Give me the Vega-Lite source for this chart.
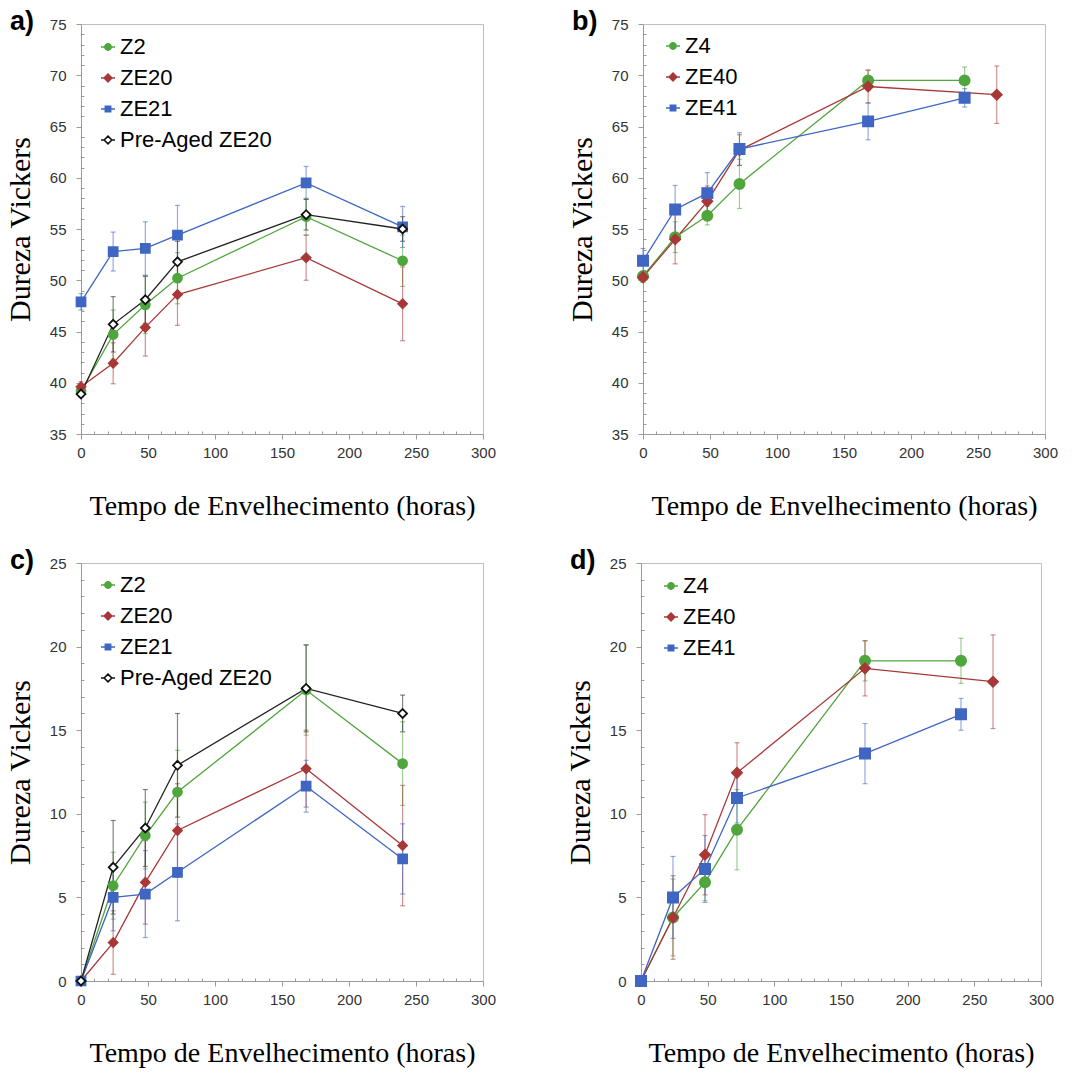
{
  "$schema": "https://vega.github.io/schema/vega-lite/v6.json",
  "background": "white",
  "padding": {"left": 4, "top": 7, "right": 0, "bottom": 0},
  "config": {
    "font": "Liberation Sans",
    "view": {"stroke": "#bfbfbf", "strokeWidth": 1},
    "axis": {
      "grid": false,
      "domainColor": "#9a9a9a",
      "tickColor": "#9a9a9a",
      "labelFont": "Liberation Sans",
      "labelFontSize": 15,
      "labelColor": "#333333",
      "labelOverlap": false,
      "labelFlush": false,
      "titleFont": "Liberation Serif",
      "titleFontWeight": "normal",
      "titleColor": "black"
    },
    "axisX": {"labelPadding": 6, "titleFontSize": 28, "titlePadding": 32},
    "axisY": {"labelPadding": 10, "titleFontSize": 30, "titlePadding": 14},
    "legend": {"labelFont": "Liberation Sans", "labelFontSize": 22, "labelColor": "black", "symbolSize": 196, "symbolStrokeWidth": 1.6, "symbolFillColor": "#4fa63c", "symbolStrokeColor": "#111111", "rowPadding": 9, "labelOffset": 1, "padding": 0, "labelLimit": 300},
    "title": {
      "font": "Liberation Sans",
      "fontSize": 27,
      "fontWeight": "bold",
      "color": "black",
      "anchor": "start",
      "frame": "group",
      "offset": 0
    }
  },
  "datasets": {
    "a": [
      {"s": "Z2", "t": 0, "v": 39.2, "e": 0.5},
      {"s": "Z2", "t": 24, "v": 44.7, "e": 2.4},
      {"s": "Z2", "t": 48, "v": 47.6, "e": 2.8},
      {"s": "Z2", "t": 72, "v": 50.2, "e": 2.5},
      {"s": "Z2", "t": 168, "v": 56.2, "e": 1.8},
      {"s": "Z2", "t": 240, "v": 51.9, "e": 2.5},
      {"s": "ZE20", "t": 0, "v": 39.6, "e": 0.5},
      {"s": "ZE20", "t": 24, "v": 41.9, "e": 2.0},
      {"s": "ZE20", "t": 48, "v": 45.4, "e": 2.8},
      {"s": "ZE20", "t": 72, "v": 48.6, "e": 3.0},
      {"s": "ZE20", "t": 168, "v": 52.2, "e": 2.2},
      {"s": "ZE20", "t": 240, "v": 47.7, "e": 3.6},
      {"s": "ZE21", "t": 0, "v": 47.9, "e": 0.8},
      {"s": "ZE21", "t": 24, "v": 52.8, "e": 1.9},
      {"s": "ZE21", "t": 48, "v": 53.1, "e": 2.6},
      {"s": "ZE21", "t": 72, "v": 54.4, "e": 2.9},
      {"s": "ZE21", "t": 168, "v": 59.5, "e": 1.6},
      {"s": "ZE21", "t": 240, "v": 55.2, "e": 2.0},
      {"s": "Pre-Aged ZE20", "t": 0, "v": 38.9, "e": 0.3},
      {"s": "Pre-Aged ZE20", "t": 24, "v": 45.7, "e": 2.7},
      {"s": "Pre-Aged ZE20", "t": 48, "v": 48.1, "e": 2.3},
      {"s": "Pre-Aged ZE20", "t": 72, "v": 51.8, "e": 2.0},
      {"s": "Pre-Aged ZE20", "t": 168, "v": 56.4, "e": 1.5},
      {"s": "Pre-Aged ZE20", "t": 240, "v": 55.0, "e": 1.2}
    ],
    "b": [
      {"s": "Z4", "t": 0, "v": 50.4, "e": 0.5},
      {"s": "Z4", "t": 24, "v": 54.2, "e": 1.5},
      {"s": "Z4", "t": 48, "v": 56.3, "e": 0.9},
      {"s": "Z4", "t": 72, "v": 59.4, "e": 2.4},
      {"s": "Z4", "t": 168, "v": 69.5, "e": 1.0},
      {"s": "Z4", "t": 240, "v": 69.5, "e": 1.3},
      {"s": "ZE40", "t": 0, "v": 50.3, "e": 0.5},
      {"s": "ZE40", "t": 24, "v": 54.0, "e": 2.4},
      {"s": "ZE40", "t": 48, "v": 57.7, "e": 1.5},
      {"s": "ZE40", "t": 72, "v": 62.7, "e": 1.5},
      {"s": "ZE40", "t": 168, "v": 68.9, "e": 1.6},
      {"s": "ZE40", "t": 264, "v": 68.1, "e": 2.8},
      {"s": "ZE41", "t": 0, "v": 51.9, "e": 1.2},
      {"s": "ZE41", "t": 24, "v": 56.9, "e": 2.35},
      {"s": "ZE41", "t": 48, "v": 58.5, "e": 2.0},
      {"s": "ZE41", "t": 72, "v": 62.8, "e": 1.6},
      {"s": "ZE41", "t": 168, "v": 65.5, "e": 1.8},
      {"s": "ZE41", "t": 240, "v": 67.8, "e": 0.9}
    ],
    "c": [
      {"s": "Z2", "t": 0, "v": 0, "e": 0},
      {"s": "Z2", "t": 24, "v": 5.7, "e": 2.0},
      {"s": "Z2", "t": 48, "v": 8.7, "e": 2.0},
      {"s": "Z2", "t": 72, "v": 11.3, "e": 2.5},
      {"s": "Z2", "t": 168, "v": 17.4, "e": 2.7},
      {"s": "Z2", "t": 240, "v": 13.0, "e": 2.5},
      {"s": "ZE20", "t": 0, "v": 0, "e": 0},
      {"s": "ZE20", "t": 24, "v": 2.3, "e": 1.9},
      {"s": "ZE20", "t": 48, "v": 5.9, "e": 2.5},
      {"s": "ZE20", "t": 72, "v": 9.0, "e": 2.8},
      {"s": "ZE20", "t": 168, "v": 12.7, "e": 2.3},
      {"s": "ZE20", "t": 240, "v": 8.1, "e": 3.6},
      {"s": "ZE21", "t": 0, "v": 0, "e": 0},
      {"s": "ZE21", "t": 24, "v": 5.0, "e": 2.0},
      {"s": "ZE21", "t": 48, "v": 5.2, "e": 2.6},
      {"s": "ZE21", "t": 72, "v": 6.5, "e": 2.9},
      {"s": "ZE21", "t": 168, "v": 11.65, "e": 1.55},
      {"s": "ZE21", "t": 240, "v": 7.3, "e": 2.1},
      {"s": "Pre-Aged ZE20", "t": 0, "v": 0, "e": 0},
      {"s": "Pre-Aged ZE20", "t": 24, "v": 6.8, "e": 2.8},
      {"s": "Pre-Aged ZE20", "t": 48, "v": 9.15, "e": 2.3},
      {"s": "Pre-Aged ZE20", "t": 72, "v": 12.9, "e": 3.1},
      {"s": "Pre-Aged ZE20", "t": 168, "v": 17.5, "e": 2.6},
      {"s": "Pre-Aged ZE20", "t": 240, "v": 16.0, "e": 1.1}
    ],
    "d": [
      {"s": "Z4", "t": 0, "v": 0, "e": 0},
      {"s": "Z4", "t": 24, "v": 3.8, "e": 2.3},
      {"s": "Z4", "t": 48, "v": 5.9, "e": 1.1},
      {"s": "Z4", "t": 72, "v": 9.05, "e": 2.4},
      {"s": "Z4", "t": 168, "v": 19.15, "e": 1.2},
      {"s": "Z4", "t": 240, "v": 19.15, "e": 1.35},
      {"s": "ZE40", "t": 0, "v": 0, "e": 0},
      {"s": "ZE40", "t": 24, "v": 3.8, "e": 2.5},
      {"s": "ZE40", "t": 48, "v": 7.55, "e": 2.4},
      {"s": "ZE40", "t": 72, "v": 12.45, "e": 1.8},
      {"s": "ZE40", "t": 168, "v": 18.7, "e": 1.65},
      {"s": "ZE40", "t": 264, "v": 17.9, "e": 2.8},
      {"s": "ZE41", "t": 0, "v": 0, "e": 0},
      {"s": "ZE41", "t": 24, "v": 5.0, "e": 2.45},
      {"s": "ZE41", "t": 48, "v": 6.7, "e": 2.0},
      {"s": "ZE41", "t": 72, "v": 10.95, "e": 1.5},
      {"s": "ZE41", "t": 168, "v": 13.6, "e": 1.8},
      {"s": "ZE41", "t": 240, "v": 15.95, "e": 0.95}
    ]
  },
  "spacing": 25,
  "resolve": {"scale": {"color": "independent", "shape": "independent", "fill": "independent", "stroke": "independent", "strokeWidth": "independent", "x": "independent", "y": "independent"}},
  "vconcat": [
    {
      "spacing": 69,
      "resolve": {"scale": {"color": "independent", "shape": "independent", "fill": "independent", "stroke": "independent", "strokeWidth": "independent", "x": "independent", "y": "independent"}},
      "hconcat": [
        {
          "width": 402, "height": 410,
          "title": {"text": "a)", "dx": -71, "dy": 23},
          "data": {"name": "a"},
          "encoding": {
            "x": {"field": "t", "type": "quantitative", "scale": {"domain": [0, 300], "nice": false}, "axis": {"title": "Tempo de Envelhecimento (horas)", "values": [0,10,20,30,40,50,60,70,80,90,100,110,120,130,140,150,160,170,180,190,200,210,220,230,240,250,260,270,280,290,300], "labelExpr": "datum.value % 50 === 0 ? datum.label : ''", "tickSize": {"condition": {"test": "datum.value % 50 === 0", "value": 5}, "value": -3}}},
            "y": {"field": "v", "type": "quantitative", "title": "Dureza Vickers", "scale": {"domain": [35, 75], "nice": false, "zero": false}, "axis": {"values": [35,36,37,38,39,40,41,42,43,44,45,46,47,48,49,50,51,52,53,54,55,56,57,58,59,60,61,62,63,64,65,66,67,68,69,70,71,72,73,74,75], "labelExpr": "datum.value % 5 === 0 ? datum.label : ''", "tickSize": {"condition": {"test": "datum.value % 5 === 0", "value": 5}, "value": -3}}}
          },
          "resolve": {"scale": {"shape": "independent", "fill": "independent", "stroke": "independent"}},
          "layer": [
            {
              "mark": {"type": "errorbar", "ticks": true, "size": 5, "thickness": 1.2, "opacity": 0.55},
              "encoding": {
                "yError": {"field": "e"},
                "color": {"field": "s", "type": "nominal", "scale": {"domain": ["Z2", "ZE20", "ZE21", "Pre-Aged ZE20"], "range": ["#4fa63c", "#a83838", "#3e66c2", "#222222"]}, "legend": null}
              }
            },
            {
              "mark": {"type": "line"},
              "encoding": {
                "color": {"field": "s", "type": "nominal", "scale": {"domain": ["Z2", "ZE20", "ZE21", "Pre-Aged ZE20"], "range": ["#4fa63c", "#a83838", "#3e66c2", "#222222"]}, "legend": null},
                "strokeWidth": {"field": "s", "type": "ordinal", "scale": {"domain": ["Z2", "ZE20", "ZE21", "Pre-Aged ZE20"], "range": [1.3, 1.3, 1.3, 2]}, "legend": null}
              }
            },
            {
              "mark": {"type": "point", "filled": true, "opacity": 1, "size": 80, "strokeWidth": 1.8},
              "encoding": {
                "shape": {"field": "s", "type": "nominal", "scale": {"domain": ["Z2", "ZE20", "ZE21", "Pre-Aged ZE20"], "range": ["circle", "diamond", "square", "diamond"]}, "legend": null},
                "fill": {"field": "s", "type": "nominal", "scale": {"domain": ["Z2", "ZE20", "ZE21", "Pre-Aged ZE20"], "range": ["#4fa63c", "#a83838", "#3e66c2", "white"]}, "legend": null},
                "stroke": {"field": "s", "type": "nominal", "scale": {"domain": ["Z2", "ZE20", "ZE21", "Pre-Aged ZE20"], "range": ["#4fa63c", "#a83838", "#3e66c2", "#111111"]}, "legend": null}
              }
            },
            {
              "mark": {"type": "point", "filled": true, "opacity": 0},
              "encoding": {
                "shape": {"field": "s", "type": "nominal", "scale": {"domain": ["Z2", "ZE20", "ZE21", "Pre-Aged ZE20"], "range": ["M-1,0L1,0M0.45,0A0.45,0.45,0,1,1,-0.45,0A0.45,0.45,0,1,1,0.45,0Z", "M-1,0L1,0M0,-0.55L0.55,0L0,0.55L-0.55,0Z", "M-1,0L1,0M-0.38,-0.38L0.38,-0.38L0.38,0.38L-0.38,0.38Z", "M-1,0L-0.55,0M0.55,0L1,0M0,-0.55L0.55,0L0,0.55L-0.55,0Z"]},
                  "legend": {"title": null, "orient": "none", "legendX": 16, "legendY": 12}},
                "fill": {"field": "s", "type": "nominal", "scale": {"domain": ["Z2", "ZE20", "ZE21", "Pre-Aged ZE20"], "range": ["#4fa63c", "#a83838", "#3e66c2", "white"]},
                  "legend": {"title": null, "orient": "none", "legendX": 16, "legendY": 12}},
                "stroke": {"field": "s", "type": "nominal", "scale": {"domain": ["Z2", "ZE20", "ZE21", "Pre-Aged ZE20"], "range": ["#4fa63c", "#a83838", "#3e66c2", "#111111"]},
                  "legend": {"title": null, "orient": "none", "legendX": 16, "legendY": 12}}
              }
            }
          ]
        },
        {
          "width": 402, "height": 410,
          "title": {"text": "b)", "dx": -71, "dy": 23},
          "data": {"name": "b"},
          "encoding": {
            "x": {"field": "t", "type": "quantitative", "scale": {"domain": [0, 300], "nice": false}, "axis": {"title": "Tempo de Envelhecimento (horas)", "values": [0,10,20,30,40,50,60,70,80,90,100,110,120,130,140,150,160,170,180,190,200,210,220,230,240,250,260,270,280,290,300], "labelExpr": "datum.value % 50 === 0 ? datum.label : ''", "tickSize": {"condition": {"test": "datum.value % 50 === 0", "value": 5}, "value": -3}}},
            "y": {"field": "v", "type": "quantitative", "title": "Dureza Vickers", "scale": {"domain": [35, 75], "nice": false, "zero": false}, "axis": {"values": [35,36,37,38,39,40,41,42,43,44,45,46,47,48,49,50,51,52,53,54,55,56,57,58,59,60,61,62,63,64,65,66,67,68,69,70,71,72,73,74,75], "labelExpr": "datum.value % 5 === 0 ? datum.label : ''", "tickSize": {"condition": {"test": "datum.value % 5 === 0", "value": 5}, "value": -3}}}
          },
          "resolve": {"scale": {"shape": "independent", "fill": "independent", "stroke": "independent"}},
          "layer": [
            {
              "mark": {"type": "errorbar", "ticks": true, "size": 5, "thickness": 1.2, "opacity": 0.55},
              "encoding": {
                "yError": {"field": "e"},
                "color": {"field": "s", "type": "nominal", "scale": {"domain": ["Z4", "ZE40", "ZE41"], "range": ["#4fa63c", "#a83838", "#3e66c2"]}, "legend": null}
              }
            },
            {
              "mark": {"type": "line", "strokeWidth": 1.3},
              "encoding": {
                "color": {"field": "s", "type": "nominal", "scale": {"domain": ["Z4", "ZE40", "ZE41"], "range": ["#4fa63c", "#a83838", "#3e66c2"]}, "legend": null}
              }
            },
            {
              "mark": {"type": "point", "filled": true, "opacity": 1, "size": 110, "strokeWidth": 1.5},
              "encoding": {
                "shape": {"field": "s", "type": "nominal", "scale": {"domain": ["Z4", "ZE40", "ZE41"], "range": ["circle", "diamond", "square"]}, "legend": null},
                "fill": {"field": "s", "type": "nominal", "scale": {"domain": ["Z4", "ZE40", "ZE41"], "range": ["#4fa63c", "#a83838", "#3e66c2"]}, "legend": null},
                "stroke": {"field": "s", "type": "nominal", "scale": {"domain": ["Z4", "ZE40", "ZE41"], "range": ["#4fa63c", "#a83838", "#3e66c2"]}, "legend": null}
              }
            },
            {
              "mark": {"type": "point", "filled": true, "opacity": 0},
              "encoding": {
                "shape": {"field": "s", "type": "nominal", "scale": {"domain": ["Z4", "ZE40", "ZE41"], "range": ["M-1,0L1,0M0.45,0A0.45,0.45,0,1,1,-0.45,0A0.45,0.45,0,1,1,0.45,0Z", "M-1,0L1,0M0,-0.55L0.55,0L0,0.55L-0.55,0Z", "M-1,0L1,0M-0.38,-0.38L0.38,-0.38L0.38,0.38L-0.38,0.38Z"]},
                  "legend": {"title": null, "orient": "none", "legendX": 19, "legendY": 11}},
                "fill": {"field": "s", "type": "nominal", "scale": {"domain": ["Z4", "ZE40", "ZE41"], "range": ["#4fa63c", "#a83838", "#3e66c2"]},
                  "legend": {"title": null, "orient": "none", "legendX": 19, "legendY": 11}},
                "stroke": {"field": "s", "type": "nominal", "scale": {"domain": ["Z4", "ZE40", "ZE41"], "range": ["#4fa63c", "#a83838", "#3e66c2"]},
                  "legend": {"title": null, "orient": "none", "legendX": 19, "legendY": 11}}
              }
            }
          ]
        }
      ]
    },
    {
      "spacing": 67,
      "resolve": {"scale": {"color": "independent", "shape": "independent", "fill": "independent", "stroke": "independent", "strokeWidth": "independent", "x": "independent", "y": "independent"}},
      "hconcat": [
        {
          "width": 402, "height": 418,
          "title": {"text": "c)", "dx": -71, "dy": 23},
          "data": {"name": "c"},
          "encoding": {
            "x": {"field": "t", "type": "quantitative", "scale": {"domain": [0, 300], "nice": false}, "axis": {"title": "Tempo de Envelhecimento (horas)", "values": [0,10,20,30,40,50,60,70,80,90,100,110,120,130,140,150,160,170,180,190,200,210,220,230,240,250,260,270,280,290,300], "labelExpr": "datum.value % 50 === 0 ? datum.label : ''", "tickSize": {"condition": {"test": "datum.value % 50 === 0", "value": 5}, "value": -3}}},
            "y": {"field": "v", "type": "quantitative", "title": "Dureza Vickers", "scale": {"domain": [0, 25], "nice": false}, "axis": {"values": [0,1,2,3,4,5,6,7,8,9,10,11,12,13,14,15,16,17,18,19,20,21,22,23,24,25], "labelExpr": "datum.value % 5 === 0 ? datum.label : ''", "tickSize": {"condition": {"test": "datum.value % 5 === 0", "value": 5}, "value": -3}}}
          },
          "resolve": {"scale": {"shape": "independent", "fill": "independent", "stroke": "independent"}},
          "layer": [
            {
              "mark": {"type": "errorbar", "ticks": true, "size": 5, "thickness": 1.2, "opacity": 0.55},
              "encoding": {
                "yError": {"field": "e"},
                "color": {"field": "s", "type": "nominal", "scale": {"domain": ["Z2", "ZE20", "ZE21", "Pre-Aged ZE20"], "range": ["#4fa63c", "#a83838", "#3e66c2", "#222222"]}, "legend": null}
              }
            },
            {
              "mark": {"type": "line"},
              "encoding": {
                "color": {"field": "s", "type": "nominal", "scale": {"domain": ["Z2", "ZE20", "ZE21", "Pre-Aged ZE20"], "range": ["#4fa63c", "#a83838", "#3e66c2", "#222222"]}, "legend": null},
                "strokeWidth": {"field": "s", "type": "ordinal", "scale": {"domain": ["Z2", "ZE20", "ZE21", "Pre-Aged ZE20"], "range": [1.3, 1.3, 1.3, 2]}, "legend": null}
              }
            },
            {
              "mark": {"type": "point", "filled": true, "opacity": 1, "size": 80, "strokeWidth": 1.8},
              "encoding": {
                "shape": {"field": "s", "type": "nominal", "scale": {"domain": ["Z2", "ZE20", "ZE21", "Pre-Aged ZE20"], "range": ["circle", "diamond", "square", "diamond"]}, "legend": null},
                "fill": {"field": "s", "type": "nominal", "scale": {"domain": ["Z2", "ZE20", "ZE21", "Pre-Aged ZE20"], "range": ["#4fa63c", "#a83838", "#3e66c2", "white"]}, "legend": null},
                "stroke": {"field": "s", "type": "nominal", "scale": {"domain": ["Z2", "ZE20", "ZE21", "Pre-Aged ZE20"], "range": ["#4fa63c", "#a83838", "#3e66c2", "#111111"]}, "legend": null}
              }
            },
            {
              "mark": {"type": "point", "filled": true, "opacity": 0},
              "encoding": {
                "shape": {"field": "s", "type": "nominal", "scale": {"domain": ["Z2", "ZE20", "ZE21", "Pre-Aged ZE20"], "range": ["M-1,0L1,0M0.45,0A0.45,0.45,0,1,1,-0.45,0A0.45,0.45,0,1,1,0.45,0Z", "M-1,0L1,0M0,-0.55L0.55,0L0,0.55L-0.55,0Z", "M-1,0L1,0M-0.38,-0.38L0.38,-0.38L0.38,0.38L-0.38,0.38Z", "M-1,0L-0.55,0M0.55,0L1,0M0,-0.55L0.55,0L0,0.55L-0.55,0Z"]},
                  "legend": {"title": null, "orient": "none", "legendX": 16, "legendY": 11}},
                "fill": {"field": "s", "type": "nominal", "scale": {"domain": ["Z2", "ZE20", "ZE21", "Pre-Aged ZE20"], "range": ["#4fa63c", "#a83838", "#3e66c2", "white"]},
                  "legend": {"title": null, "orient": "none", "legendX": 16, "legendY": 11}},
                "stroke": {"field": "s", "type": "nominal", "scale": {"domain": ["Z2", "ZE20", "ZE21", "Pre-Aged ZE20"], "range": ["#4fa63c", "#a83838", "#3e66c2", "#111111"]},
                  "legend": {"title": null, "orient": "none", "legendX": 16, "legendY": 11}}
              }
            }
          ]
        },
        {
          "width": 400, "height": 418,
          "title": {"text": "d)", "dx": -71, "dy": 23},
          "data": {"name": "d"},
          "encoding": {
            "x": {"field": "t", "type": "quantitative", "scale": {"domain": [0, 300], "nice": false}, "axis": {"title": "Tempo de Envelhecimento (horas)", "values": [0,10,20,30,40,50,60,70,80,90,100,110,120,130,140,150,160,170,180,190,200,210,220,230,240,250,260,270,280,290,300], "labelExpr": "datum.value % 50 === 0 ? datum.label : ''", "tickSize": {"condition": {"test": "datum.value % 50 === 0", "value": 5}, "value": -3}}},
            "y": {"field": "v", "type": "quantitative", "title": "Dureza Vickers", "scale": {"domain": [0, 25], "nice": false}, "axis": {"values": [0,1,2,3,4,5,6,7,8,9,10,11,12,13,14,15,16,17,18,19,20,21,22,23,24,25], "labelExpr": "datum.value % 5 === 0 ? datum.label : ''", "tickSize": {"condition": {"test": "datum.value % 5 === 0", "value": 5}, "value": -3}}}
          },
          "resolve": {"scale": {"shape": "independent", "fill": "independent", "stroke": "independent"}},
          "layer": [
            {
              "mark": {"type": "errorbar", "ticks": true, "size": 5, "thickness": 1.2, "opacity": 0.55},
              "encoding": {
                "yError": {"field": "e"},
                "color": {"field": "s", "type": "nominal", "scale": {"domain": ["Z4", "ZE40", "ZE41"], "range": ["#4fa63c", "#a83838", "#3e66c2"]}, "legend": null}
              }
            },
            {
              "mark": {"type": "line", "strokeWidth": 1.3},
              "encoding": {
                "color": {"field": "s", "type": "nominal", "scale": {"domain": ["Z4", "ZE40", "ZE41"], "range": ["#4fa63c", "#a83838", "#3e66c2"]}, "legend": null}
              }
            },
            {
              "mark": {"type": "point", "filled": true, "opacity": 1, "size": 110, "strokeWidth": 1.5},
              "encoding": {
                "shape": {"field": "s", "type": "nominal", "scale": {"domain": ["Z4", "ZE40", "ZE41"], "range": ["circle", "diamond", "square"]}, "legend": null},
                "fill": {"field": "s", "type": "nominal", "scale": {"domain": ["Z4", "ZE40", "ZE41"], "range": ["#4fa63c", "#a83838", "#3e66c2"]}, "legend": null},
                "stroke": {"field": "s", "type": "nominal", "scale": {"domain": ["Z4", "ZE40", "ZE41"], "range": ["#4fa63c", "#a83838", "#3e66c2"]}, "legend": null}
              }
            },
            {
              "mark": {"type": "point", "filled": true, "opacity": 0},
              "encoding": {
                "shape": {"field": "s", "type": "nominal", "scale": {"domain": ["Z4", "ZE40", "ZE41"], "range": ["M-1,0L1,0M0.45,0A0.45,0.45,0,1,1,-0.45,0A0.45,0.45,0,1,1,0.45,0Z", "M-1,0L1,0M0,-0.55L0.55,0L0,0.55L-0.55,0Z", "M-1,0L1,0M-0.38,-0.38L0.38,-0.38L0.38,0.38L-0.38,0.38Z"]},
                  "legend": {"title": null, "orient": "none", "legendX": 19, "legendY": 12}},
                "fill": {"field": "s", "type": "nominal", "scale": {"domain": ["Z4", "ZE40", "ZE41"], "range": ["#4fa63c", "#a83838", "#3e66c2"]},
                  "legend": {"title": null, "orient": "none", "legendX": 19, "legendY": 12}},
                "stroke": {"field": "s", "type": "nominal", "scale": {"domain": ["Z4", "ZE40", "ZE41"], "range": ["#4fa63c", "#a83838", "#3e66c2"]},
                  "legend": {"title": null, "orient": "none", "legendX": 19, "legendY": 12}}
              }
            }
          ]
        }
      ]
    }
  ]
}
